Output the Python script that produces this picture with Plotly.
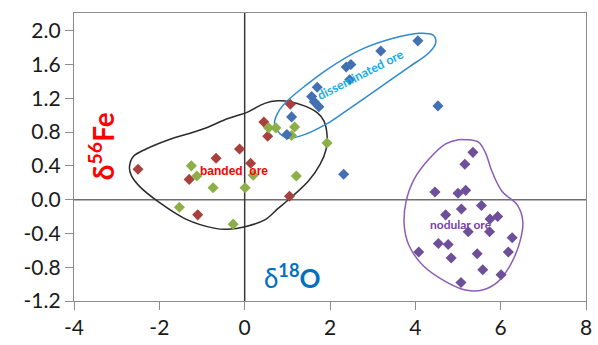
import plotly.graph_objects as go

# ---- data ----
banded_red_x = [-2.5, -1.3, -1.1, -0.67, -0.12, 0.14, 0.45, 0.54, 1.07, 1.05]
banded_red_y = [0.36, 0.24, -0.18, 0.49, 0.60, 0.43, 0.92, 0.75, 1.13, 0.04]

banded_green_x = [-1.25, -1.12, -0.74, 0.01, 0.20, -1.53, -0.27, 0.56, 0.73, 1.17, 1.10, 1.93, 1.21]
banded_green_y = [0.40, 0.28, 0.14, 0.14, 0.29, -0.09, -0.29, 0.85, 0.85, 0.86, 0.76, 0.67, 0.28]

dissem_x = [4.06, 3.19, 2.38, 2.49, 2.46, 1.70, 1.57, 1.63, 1.74, 4.53, 1.10, 0.99, 2.32]
dissem_y = [1.88, 1.76, 1.57, 1.60, 1.42, 1.33, 1.22, 1.16, 1.10, 1.11, 0.98, 0.77, 0.30]

nodular_x = [5.35, 5.16, 4.46, 5.00, 5.18, 4.71, 5.08, 5.55, 5.75, 5.93, 5.24,
             5.74, 6.27, 4.54, 4.77, 4.08, 5.45, 6.18, 4.84, 5.58, 6.01, 5.07]
nodular_y = [0.56, 0.42, 0.09, 0.075, 0.11, -0.18, -0.11, -0.07, -0.23, -0.20, -0.38,
             -0.38, -0.45, -0.52, -0.53, -0.62, -0.64, -0.62, -0.69, -0.83, -0.89, -0.98]

# hand-drawn outlines (annotation shapes)
banded_outline_x = [-2.70, -2.61, -2.31, -1.78, -1.01, -0.39, 0.08, 0.47, 0.77, 1.07, 1.40, 1.70, 1.86,
                    1.93, 1.91, 1.77, 1.51, 1.12, 0.77, 0.47, 0.01, -0.39, -0.69, -1.38, -2.01, -2.47, -2.66]
banded_outline_y = [0.385, 0.51, 0.60, 0.71, 0.83, 0.96, 1.04, 1.14, 1.17, 1.16, 1.11, 1.03, 0.93,
                    0.77, 0.60, 0.42, 0.23, 0.04, -0.11, -0.24, -0.32, -0.35, -0.34, -0.23, -0.03, 0.16, 0.29]

dissem_outline_x = [0.70, 0.79, 1.00, 1.40, 1.93, 2.32, 3.09, 3.85, 4.32, 4.48, 4.41, 4.09, 3.48,
                    2.70, 1.93, 1.40, 1.00, 0.79]
dissem_outline_y = [0.91, 0.80, 0.73, 0.77, 0.90, 1.03, 1.30, 1.57, 1.74, 1.86, 1.95, 1.97, 1.91,
                    1.77, 1.54, 1.34, 1.17, 1.04]

nodular_outline_x = [5.18, 5.48, 5.64, 5.80, 6.03, 6.40, 6.52, 6.45, 6.22, 5.94, 5.57, 5.18, 4.71,
                     4.18, 3.85, 3.74, 3.78, 3.97, 4.32, 4.71, 5.01]
nodular_outline_y = [0.71, 0.68, 0.56, 0.33, 0.10, -0.07, -0.26, -0.50, -0.78, -0.97, -1.07, -1.07, -0.97,
                     -0.78, -0.54, -0.31, -0.03, 0.24, 0.48, 0.66, 0.71]

y_ticks = [-1.2, -0.8, -0.4, 0.0, 0.4, 0.8, 1.2, 1.6, 2.0]
x_ticks = [-4, -2, 0, 2, 4, 6, 8]

FONT = "Lato, Carlito, Calibri, sans-serif"

fig = go.Figure()


def closed(xs, ys):
    return xs + xs[:1], ys + ys[:1]


for ox, oy, col in [(banded_outline_x, banded_outline_y, "#2b2b2b"),
                    (dissem_outline_x, dissem_outline_y, "#2E8AD0"),
                    (nodular_outline_x, nodular_outline_y, "#8E5CB8")]:
    cx, cy = closed(ox, oy)
    fig.add_trace(go.Scatter(x=cx, y=cy, mode="lines",
                             line=dict(color=col, width=1.5, shape="spline", smoothing=1.0),
                             hoverinfo="skip", showlegend=False))

marker_common = dict(symbol="diamond", size=8.5, line=dict(width=0))
fig.add_trace(go.Scatter(x=banded_red_x, y=banded_red_y, mode="markers",
                         marker=dict(color="#A8403D", **marker_common), showlegend=False))
fig.add_trace(go.Scatter(x=banded_green_x, y=banded_green_y, mode="markers",
                         marker=dict(color="#8CAF48", **marker_common), showlegend=False))
fig.add_trace(go.Scatter(x=dissem_x, y=dissem_y, mode="markers",
                         marker=dict(color="#4370B2", **marker_common), showlegend=False))
fig.add_trace(go.Scatter(x=nodular_x, y=nodular_y, mode="markers",
                         marker=dict(color="#6E4F99", **marker_common), showlegend=False))

# cross lines
fig.add_shape(type="line", x0=-4, x1=8, y0=0, y1=0, xref="x", yref="y",
              line=dict(color="#6f6f6f", width=1.5), layer="below")
fig.add_shape(type="line", x0=0, x1=0, y0=-1.2, y1=2.21, xref="x", yref="y",
              line=dict(color="#3a3a3a", width=1.5), layer="below")

annotations = [
    dict(x=-3.35, y=0.63, text="<b>δ<sup>56</sup>Fe</b>", textangle=-90, showarrow=False,
         font=dict(family=FONT, size=28, color="#FF0000"), xref="x", yref="y"),
    dict(x=1.12, y=-0.91, text="δ<b><sup>18</sup>O</b>", showarrow=False,
         font=dict(family=FONT, size=26, color="#0070C0"), xref="x", yref="y"),
    dict(x=-0.25, y=0.34, text="<b>banded  ore</b>", showarrow=False,
         font=dict(family="Liberation Sans, Arial, sans-serif", size=12, color="#FF0000"),
         xref="x", yref="y"),
    dict(x=2.72, y=1.48, text="<b>disseminated ore</b>", textangle=-27, showarrow=False,
         font=dict(family=FONT, size=12.5, color="#14AEEA"), xref="x", yref="y"),
    dict(x=5.07, y=-0.30, text="<b>nodular ore</b>", showarrow=False,
         font=dict(family=FONT, size=12, color="#7A3FA8"), xref="x", yref="y"),
]

fig.update_layout(
    width=598, height=345,
    margin=dict(l=74, r=6, t=13, b=42),
    paper_bgcolor="white", plot_bgcolor="white",
    font=dict(family=FONT, color="#1a1a1a"),
    annotations=annotations,
    xaxis=dict(range=[-4, 8], tickvals=x_ticks, ticktext=[str(v) for v in x_ticks],
               showgrid=False, zeroline=False, showline=True, mirror=True,
               linecolor="#8c8c8c", linewidth=1.3, ticks="outside", ticklen=8,
               tickcolor="#8c8c8c", tickfont=dict(size=21, family=FONT, color="#1a1a1a")),
    yaxis=dict(range=[-1.2, 2.21], tickvals=y_ticks, ticktext=[f"{v:.1f}" for v in y_ticks],
               showgrid=False, zeroline=False, showline=True, mirror=True,
               linecolor="#8c8c8c", linewidth=1.3, ticks="outside", ticklen=8,
               tickcolor="#8c8c8c", tickfont=dict(size=21, family=FONT, color="#1a1a1a")),
)

fig.write_html("out.html", config={"displayModeBar": False})

# remove the default page margin so the figure sits at the window's top-left corner
with open("out.html", "r", encoding="utf-8") as f:
    html = f.read()
html = html.replace("<head>", "<head><style>html,body{margin:0;padding:0;overflow:hidden;}</style>", 1)
with open("out.html", "w", encoding="utf-8") as f:
    f.write(html)
